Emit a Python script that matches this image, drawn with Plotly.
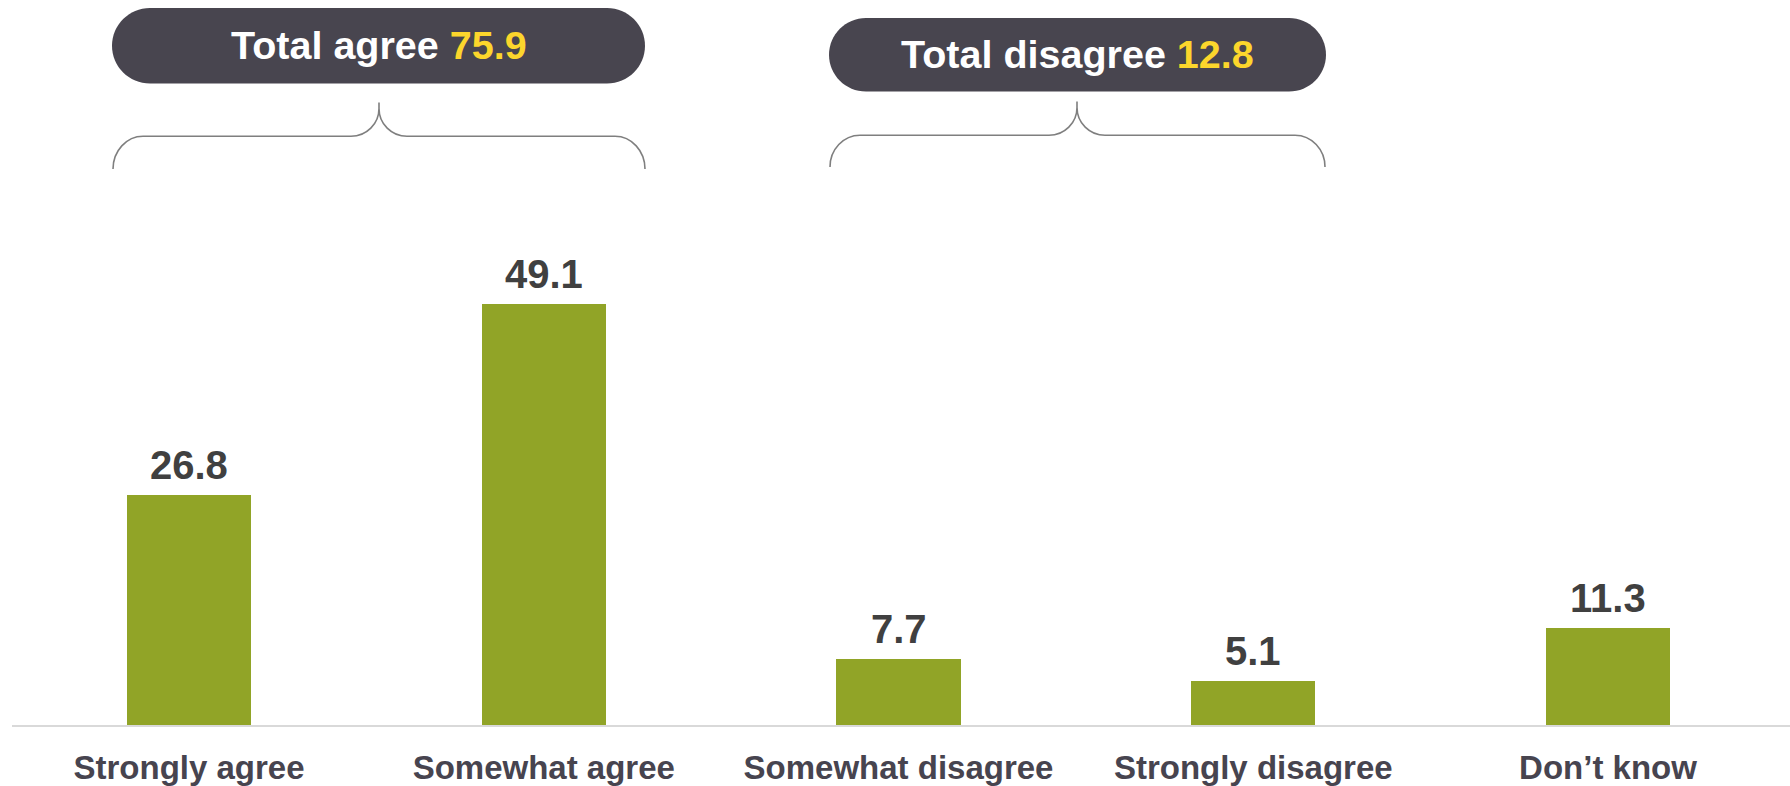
import plotly.graph_objects as go

categories = ["Strongly agree", "Somewhat agree", "Somewhat disagree", "Strongly disagree", "Don\u2019t know"]
values = [26.8, 49.1, 7.7, 5.1, 11.3]
agree_idx = [0, 1]
disagree_idx = [2, 3]

W, H = 1790, 786
ML, MR, MT, MB = 12, 0, 0, 57
PW = W - ML - MR
PH = H - MT - MB

BAR_COLOR = "#91a427"
PILL_COLOR = "#48454f"
YELLOW = "#fcd62c"
VAL_COLOR = "#404040"
CAT_COLOR = "#47444f"
BRACE_COLOR = "#7f7f7f"
FONT = "Liberation Sans, Arial, sans-serif"


def px(x):
    return (x - ML) / PW


def py(y):
    return (H - MB - y) / PH


def P(x, y):
    return f"{px(x):.5f},{py(y):.5f}"


K = 0.5523


def pill_path(x0, y0, x1, y1):
    r = (y1 - y0) / 2
    cy = (y0 + y1) / 2
    return (
        f"M {P(x0 + r, y0)} L {P(x1 - r, y0)} "
        f"C {P(x1 - r + K * r, y0)} {P(x1, cy - K * r)} {P(x1, cy)} "
        f"C {P(x1, cy + K * r)} {P(x1 - r + K * r, y1)} {P(x1 - r, y1)} "
        f"L {P(x0 + r, y1)} "
        f"C {P(x0 + r - K * r, y1)} {P(x0, cy + K * r)} {P(x0, cy)} "
        f"C {P(x0, cy - K * r)} {P(x0 + r - K * r, y0)} {P(x0 + r, y0)} Z"
    )


def brace_path(x0, x1, xm, yend, yh, ytop):
    rx, ry = 30, yend - yh
    pw, ph = 28, (yh - ytop) - 6
    tip = yh - ph
    return (
        f"M {P(x0, yend)} "
        f"C {P(x0, yend - K * ry)} {P(x0 + rx - K * rx, yh)} {P(x0 + rx, yh)} "
        f"L {P(xm - pw, yh)} "
        f"C {P(xm - pw + K * pw, yh)} {P(xm, tip + K * ph)} {P(xm, tip)} "
        f"L {P(xm, ytop)} L {P(xm, tip)} "
        f"C {P(xm, tip + K * ph)} {P(xm + pw - K * pw, yh)} {P(xm + pw, yh)} "
        f"L {P(x1 - rx, yh)} "
        f"C {P(x1 - rx + K * rx, yh)} {P(x1, yend - K * ry)} {P(x1, yend)}"
    )


fig = go.Figure()
fig.add_trace(go.Bar(
    x=categories, y=values, marker_color=BAR_COLOR, marker_line_width=0,
    width=0.35, hoverinfo="x+y",
))

for c, v in zip(categories, values):
    fig.add_annotation(
        x=c, y=v, xref="x", yref="y", text=f"{v:.1f}", showarrow=False,
        yanchor="bottom", yshift=6,
        font=dict(family=FONT, size=40, color=VAL_COLOR, weight="bold"),
    )

total_agree = sum(values[i] for i in agree_idx)
total_disagree = sum(values[i] for i in disagree_idx)

groups = [
    # (label, total, pill x0, y0, x1, y1, brace x0, x1, peak x, brace end y, horiz y, top y)
    ("Total agree", total_agree, 112, 8, 645, 84, 113, 645, 379, 170, 137, 103),
    ("Total disagree", total_disagree, 829, 18, 1326, 92, 830, 1325, 1077, 168, 136, 102),
]

shapes = []
for lab, tot, x0, y0, x1, y1, bx0, bx1, bxm, bye, byh, byt in groups:
    shapes.append(dict(type="path", xref="paper", yref="paper",
                       path=pill_path(x0, y0, x1, y1),
                       fillcolor=PILL_COLOR, line=dict(width=0), layer="above"))
    shapes.append(dict(type="path", xref="paper", yref="paper",
                       path=brace_path(bx0, bx1, bxm, bye, byh, byt),
                       line=dict(color=BRACE_COLOR, width=1.6), layer="above"))
    fig.add_annotation(
        x=px((x0 + x1) / 2), y=py((y0 + y1) / 2 - 1), xref="paper", yref="paper",
        text=f"{lab} <span style='color:{YELLOW}'>{tot:.1f}</span>",
        showarrow=False, xanchor="center", yanchor="middle",
        font=dict(family=FONT, size=39.5, color="#ffffff", weight="bold"),
    )

fig.update_layout(
    width=W, height=H,
    margin=dict(l=ML, r=MR, t=MT, b=MB),
    paper_bgcolor="white", plot_bgcolor="white",
    showlegend=False, shapes=shapes,
    bargap=0,
)
left = -(189 - ML) / 354.75
fig.update_xaxes(
    range=[left, left + PW / 354.75], showline=True, linecolor="#d9d9d9", linewidth=2,
    showgrid=False, zeroline=False, ticks="", ticklabelstandoff=12,
    tickfont=dict(family=FONT, size=33, color=CAT_COLOR, weight="bold"),
)
fig.update_yaxes(range=[0, PH / 8.63], visible=False, showgrid=False, zeroline=False)

fig.write_html(
    "out.html",
    config={"displayModeBar": False},
    post_script="document.body.style.margin='0';document.body.style.overflow='hidden';",
)
